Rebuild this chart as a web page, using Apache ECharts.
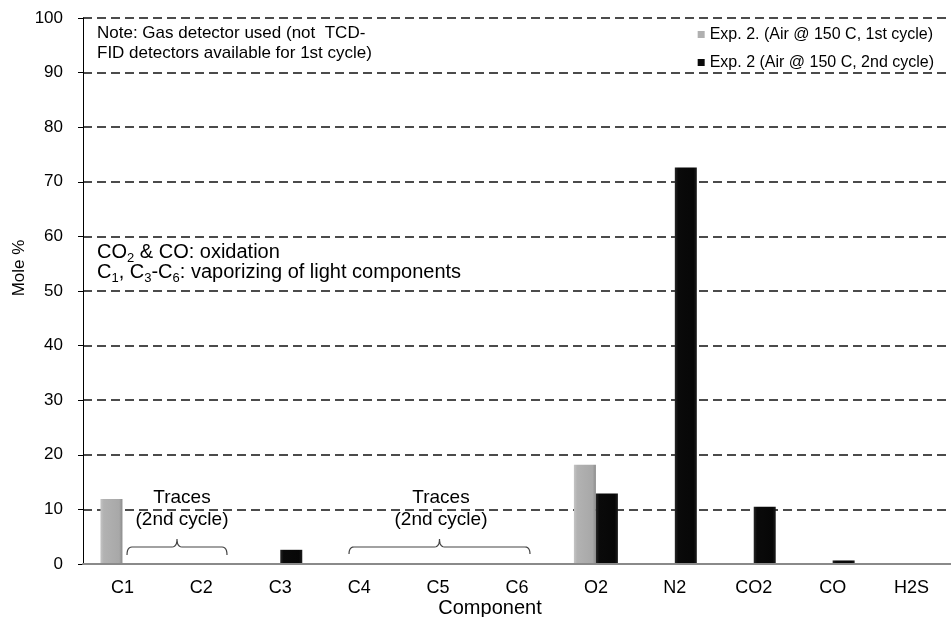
<!DOCTYPE html>
<html>
<head>
<meta charset="utf-8">
<script src="https://cdn.jsdelivr.net/npm/echarts@6/dist/echarts.min.js"></script>
<style>html,body{margin:0;padding:0;background:#fff}#c{width:951px;height:617px}</style>
</head>
<body>
<div id="c"></div>
<script>
var categories = ['C1','C2','C3','C4','C5','C6','O2','N2','CO2','CO','H2S'];
var cycle1Name = 'Exp. 2. (Air @ 150 C, 1st cycle)';
var cycle2Name = 'Exp. 2 (Air @ 150 C, 2nd cycle)';
var cycle1 = [11.9, null, null, null, null, null, 18.2, null, null, null, null];
var cycle2 = [0, 0, 2.6, 0, 0, 0, 12.9, 72.6, 10.5, 0.65, 0];
var yTicks = {min: 0, max: 100, interval: 10};

var FONT = 'Liberation Sans, Arial, sans-serif';
var chart = echarts.init(document.getElementById('c'), null, {renderer: 'canvas'});

var grayFill = new echarts.graphic.LinearGradient(0,0,1,0,[
  {offset:0,color:'#c4c4c4'},{offset:0.15,color:'#b2b2b2'},{offset:0.85,color:'#a8a8a8'},{offset:1,color:'#8c8c8c'}]);
var blackFill = new echarts.graphic.LinearGradient(0,0,1,0,[
  {offset:0,color:'#262626'},{offset:0.15,color:'#0a0a0a'},{offset:0.85,color:'#070707'},{offset:1,color:'#1c1c1c'}]);

// quadratic curve points helper for annotation braces
function quad(p0, p1, p2, n) {
  var out = [];
  for (var i = 1; i <= n; i++) {
    var t = i / n, a = (1-t)*(1-t), b = 2*(1-t)*t, c = t*t;
    out.push([a*p0[0]+b*p1[0]+c*p2[0], a*p0[1]+b*p1[1]+c*p2[1]]);
  }
  return out;
}
function brace(x1, x2, yTop, yTip, yEnd) {
  var c = (x1 + x2) / 2, pts = [[x1, yEnd]];
  pts = pts.concat(quad([x1,yEnd],[x1,yTop],[x1+5,yTop],6));
  pts.push([c-5, yTop]);
  pts = pts.concat(quad([c-5,yTop],[c,yTop],[c,yTip],6));
  pts = pts.concat(quad([c,yTip],[c,yTop],[c+5,yTop],6));
  pts.push([x2-5, yTop]);
  pts = pts.concat(quad([x2-5,yTop],[x2,yTop],[x2,yEnd],6));
  return pts;
}
var richSub = {
  m: {fontFamily: FONT, fontSize: 20, lineHeight: 20, verticalAlign: 'top', fill: '#000'},
  s: {fontFamily: FONT, fontSize: 13, lineHeight: 23, verticalAlign: 'bottom', fill: '#000'}
};

var option = {
  animation: false,
  backgroundColor: '#fff',
  textStyle: {fontFamily: FONT},
  grid: {left: 83, top: 18, bottom: 53, width: 875, containLabel: false},
  legend: {
    orient: 'vertical', right: 12, top: 21, itemWidth: 7, itemHeight: 7, itemGap: 11,
    icon: 'rect',
    textStyle: {fontFamily: FONT, fontSize: 16, color: '#000', padding: [0,0,0,0], lineHeight: 17},
    data: [{name: cycle1Name, itemStyle: {color: '#b0b0b0'}}, {name: cycle2Name, itemStyle: {color: '#0a0a0a'}}]
  },
  xAxis: {
    type: 'category', data: categories,
    axisLine: {show: true, lineStyle: {color: '#8a8a8a', width: 2}},
    axisTick: {show: false},
    axisLabel: {fontFamily: FONT, fontSize: 18, color: '#000', margin: 15},
    z: 5
  },
  yAxis: {
    type: 'value', min: yTicks.min, max: yTicks.max, interval: yTicks.interval,
    axisLine: {show: true, lineStyle: {color: '#000', width: 1}},
    axisTick: {show: true, inside: false, length: 5, lineStyle: {color: '#000'}},
    axisLabel: {fontFamily: FONT, fontSize: 17, color: '#000', margin: 20},
    splitLine: {show: true, lineStyle: {color: '#111', width: 1.7, type: [9,5]}}
  },
  series: [
    {name: cycle1Name, type: 'bar', data: cycle1, barWidth: 22, barGap: '0%',
     itemStyle: {color: grayFill}, z: 3},
    {name: cycle2Name, type: 'bar', data: cycle2, barWidth: 22, barGap: '0%',
     itemStyle: {color: blackFill}, z: 3}
  ],
  graphic: [
    {type: 'text', x: 97, y: 23, style: {text: 'Note: Gas detector used (not  TCD-\nFID detectors available for 1st cycle)',
      font: '17px ' + FONT, fill: '#000', lineHeight: 20}},
    {type: 'text', x: 97, y: 242, style: {text: '{m|CO}{s|2}{m| & CO: oxidation}', rich: richSub}},
    {type: 'text', x: 97, y: 262, style: {text: '{m|C}{s|1}{m|, C}{s|3}{m|-C}{s|6}{m|: vaporizing of light components}', rich: richSub}},
    {type: 'text', x: 182, y: 487, style: {text: 'Traces\n(2nd cycle)', font: '19px ' + FONT, fill: '#000',
      align: 'center', lineHeight: 22}},
    {type: 'text', x: 441, y: 487, style: {text: 'Traces\n(2nd cycle)', font: '19px ' + FONT, fill: '#000',
      align: 'center', lineHeight: 22}},
    {type: 'polyline', shape: {points: brace(127, 227, 547, 539, 555)}, style: {fill: null, stroke: '#444', lineWidth: 1.2}},
    {type: 'polyline', shape: {points: brace(349, 530, 547, 539, 554)}, style: {fill: null, stroke: '#444', lineWidth: 1.2}},
    {type: 'text', x: 490, y: 608, style: {text: 'Component', font: '20px ' + FONT, fill: '#000',
      align: 'center', verticalAlign: 'middle'}},
    {type: 'text', x: 19.5, y: 268, rotation: Math.PI/2, style: {text: 'Mole %', font: '17px ' + FONT, fill: '#000',
      align: 'center', verticalAlign: 'middle'}}
  ]
};
chart.setOption(option);
</script>
</body>
</html>
